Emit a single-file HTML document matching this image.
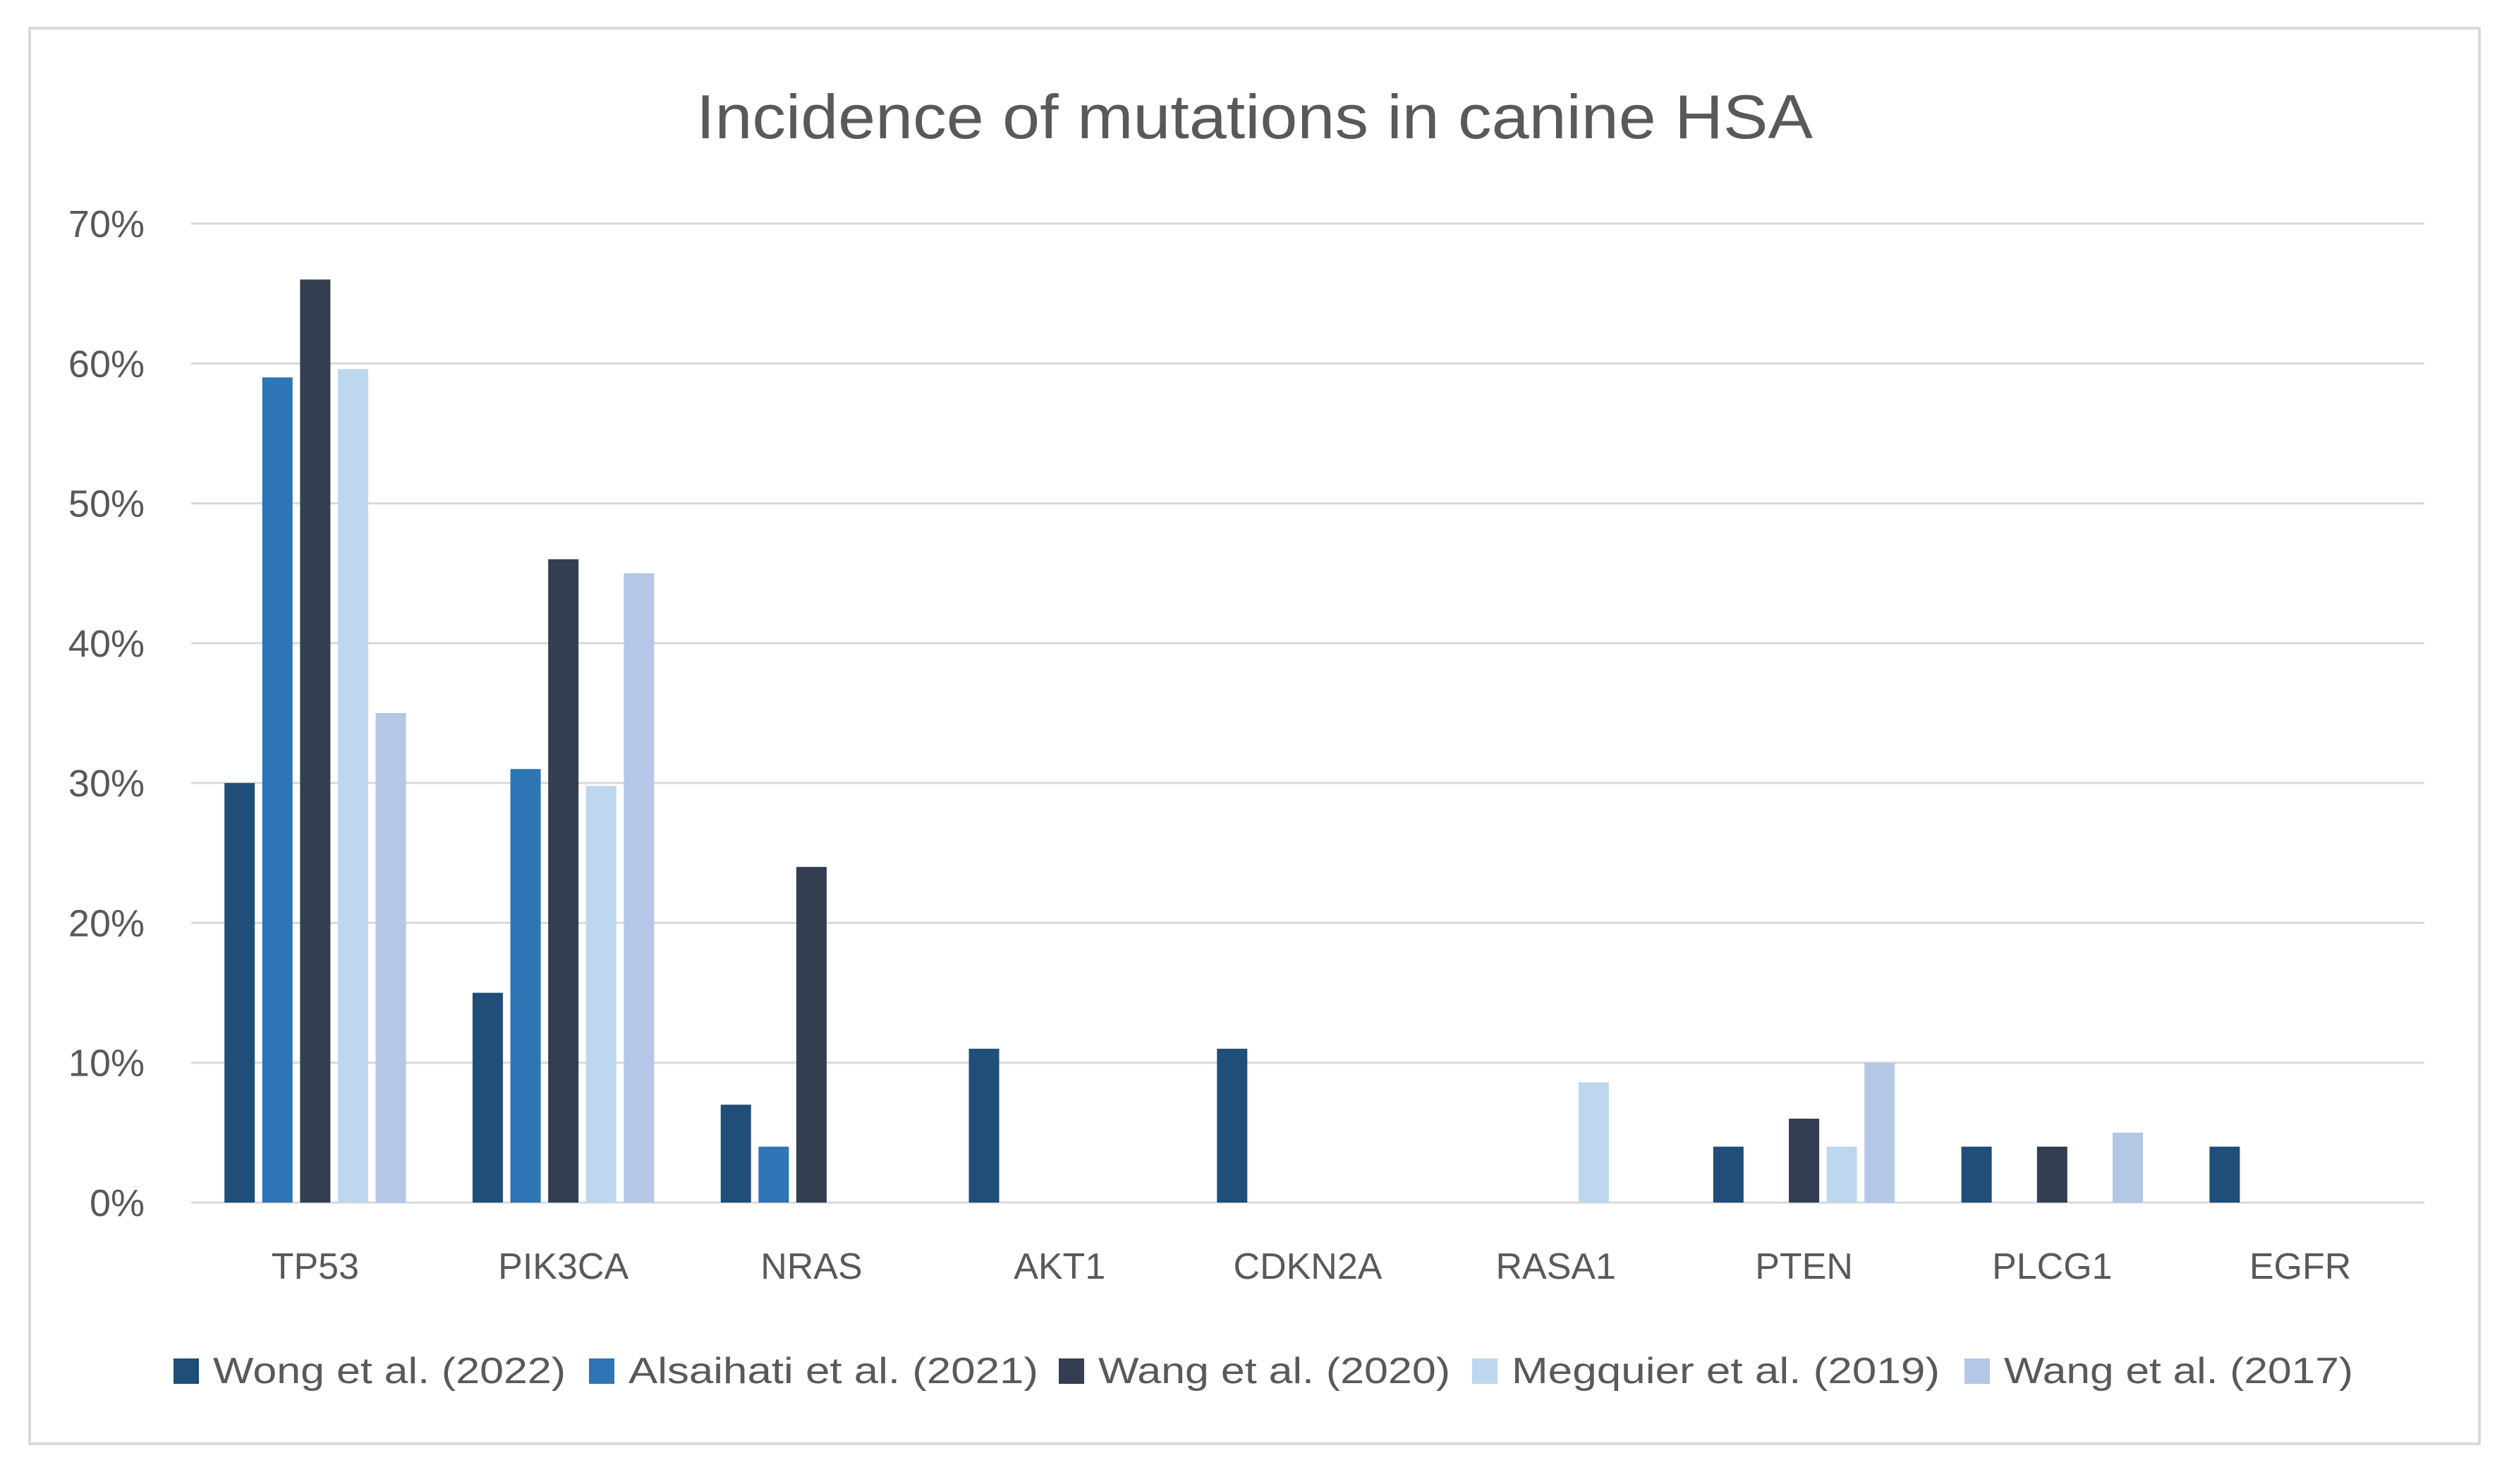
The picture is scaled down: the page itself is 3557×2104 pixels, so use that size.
<!DOCTYPE html>
<html><head><meta charset="utf-8"><style>
html,body{margin:0;padding:0;background:#fff;}
svg{display:block;font-family:"Liberation Sans",sans-serif;}
</style></head><body>
<svg id="chart" width="3557" height="2104" viewBox="0 0 3557 2104">
<rect x="42" y="40" width="3473" height="2007" fill="#fff" stroke="#d9d9d9" stroke-width="4"/>
<text x="987" y="196" font-size="88" fill="#595959" textLength="1583" lengthAdjust="spacingAndGlyphs">Incidence of mutations in canine HSA</text>
<g id="grid"></g><g id="bars"></g><g id="xlabels"></g><g id="legend"></g>
</svg>
<script>
const categories=["TP53","PIK3CA","NRAS","AKT1","CDKN2A","RASA1","PTEN","PLCG1","EGFR"];
const seriesNames=["Wong et al. (2022)","Alsaihati et al. (2021)","Wang et al. (2020)","Megquier et al. (2019)","Wang et al. (2017)"];
const wong2022=[30,15,7,11,11,0,4,4,4];
const alsaihati2021=[59,31,4,0,0,0,0,0,0];
const wang2020=[66,46,24,0,0,0,6,4,0];
const megquier2019=[59.6,29.8,0,0,0,8.6,4,0,0];
const wang2017=[35,45,0,0,0,0,10,5,0];
const yTicks=[0,10,20,30,40,50,60,70];
const series=[wong2022,alsaihati2021,wang2020,megquier2019,wang2017];
const colors=["#1f4e79","#2e75b6","#333f50","#bdd7ee","#b4c7e7"];
const NS="http://www.w3.org/2000/svg";
const X0=271,X1=3437,Y0=1705,Y1=317,YMAX=70;
const catW=(X1-X0)/categories.length;
const y=v=>Y0-(v/YMAX)*(Y0-Y1);
function mk(t,a,p){const e=document.createElementNS(NS,t);for(const k in a)e.setAttribute(k,a[k]);p.appendChild(e);return e;}
const grid=document.getElementById('grid');
yTicks.forEach(t=>{
  const l=mk('line',{x1:X0,x2:X1,y1:y(t),y2:y(t),stroke:'#d9d9d9','stroke-width':3},grid);
  
  
  const tx=mk('text',{x:205,y:y(t)+19,'text-anchor':'end','font-size':54,fill:'#595959'},grid);
  tx.textContent=t+'%';
  
  
});
const bars=document.getElementById('bars');
const step=53.6,bw=43,groupW=step*4+bw;
categories.forEach((c,i)=>{
  const gx=X0+i*catW+(catW-groupW)/2;
  series.forEach((s,j)=>{
    const v=s[i]; if(!v) return;
    const r=mk('rect',{x:gx+j*step,y:y(v),width:bw,height:Y0-y(v),fill:colors[j]},bars);
    
    
  });
  const t=mk('text',{x:X0+(i+0.5)*catW,y:1813,'text-anchor':'middle','font-size':52,fill:'#595959'},document.getElementById('xlabels'));
  t.textContent=c;
  
  
});
const legend=document.getElementById('legend');
const sqX=[246,835,1501,2087,2785],txW=[500,581,499,607,495];
seriesNames.forEach((n,j)=>{
  const r=mk('rect',{x:sqX[j],y:1926,width:36,height:36,fill:colors[j]},legend);
  
  
  const t=mk('text',{x:sqX[j]+56,y:1961,'font-size':52,fill:'#595959',textLength:txW[j],lengthAdjust:'spacingAndGlyphs'},legend);
  t.textContent=n;
  
  
});
</script>
</body></html>
